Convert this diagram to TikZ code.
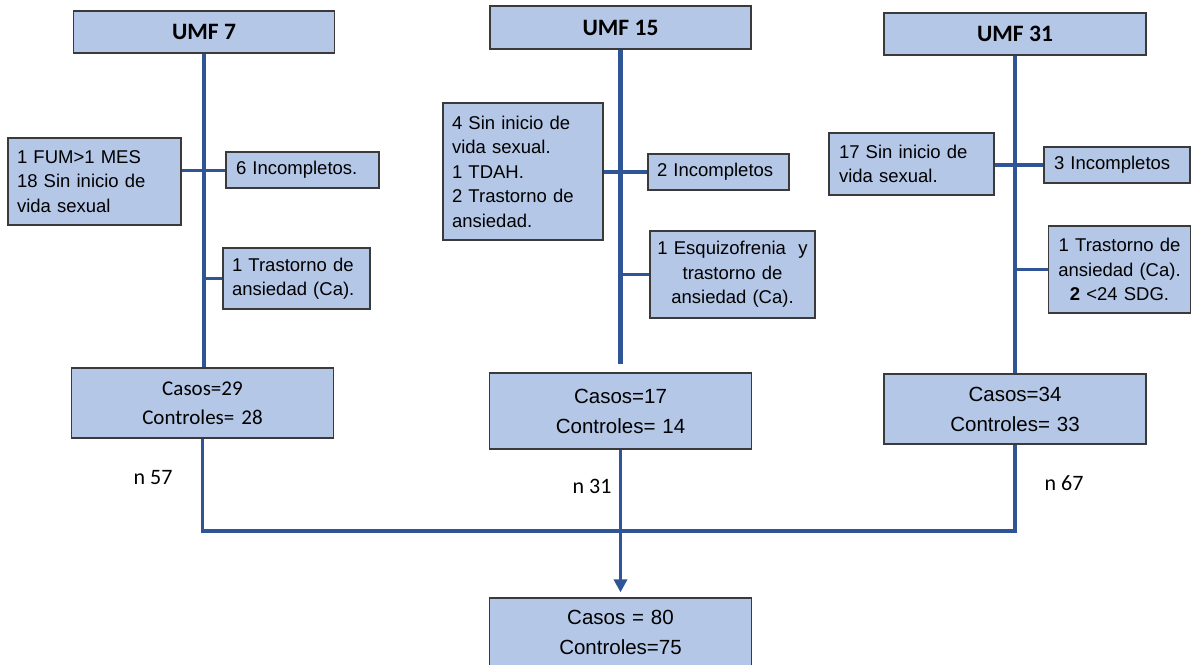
\documentclass[tikz,border=0pt]{standalone}
\usepackage{fontspec}
\setmainfont{Liberation Sans}
\newfontfamily\calib{Carlito}
\usetikzlibrary{arrows.meta}
\definecolor{boxfill}{HTML}{B4C7E7}
\definecolor{boxline}{HTML}{3A3A3A}
\definecolor{conncol}{HTML}{2F5597}
\hyphenpenalty=10000
\exhyphenpenalty=10000
\tikzset{
  box/.style={draw=boxline, line width=1.2pt, fill=boxfill, inner ysep=0pt, inner xsep=9pt},
  lbox/.style={box, align=left, font=\fontsize{18.5}{24.5}\selectfont},
  cbox/.style={box, align=center, font=\fontsize{18.5}{24.5}\selectfont},
  titlebox/.style={box, font=\calib\bfseries\fontsize{23.5}{27}\selectfont},
  casosA/.style={box, align=center, font=\calib\fontsize{21}{29}\selectfont},
  casosB/.style={box, align=center, font=\fontsize{20.5}{30}\selectfont},
  nlabel/.style={font=\calib\fontsize{22}{26}\selectfont, inner sep=0pt},
  conn/.style={draw=conncol, line width=3.5pt},
  thickconn/.style={draw=conncol, line width=4.5pt}
}
\begin{document}
\begin{tikzpicture}[x=1pt,y=-1pt]
\useasboundingbox (0,0) rectangle (1191,664);
\clip (0,0) rectangle (1191,664);
% titles
\node[titlebox, minimum width=261pt, minimum height=42pt] (u7) at (204,32) {UMF 7};
\node[titlebox, minimum width=261pt, minimum height=43pt] (u15) at (620.5,27.5) {UMF 15};
\node[titlebox, minimum width=262pt, minimum height=42pt] (u31) at (1015,34) {UMF 31};
% UMF 7 side boxes
\node[lbox, text width=155pt, minimum height=87pt] (l7) at (94.5,181.5) {1 FUM>1 MES\\18 Sin inicio de\\vida sexual};
\node[lbox, minimum height=36pt, inner xsep=10pt, text width=133pt] (r7) at (302.5,170) {6 Incompletos.};
\node[lbox, text width=129pt, minimum height=61pt] (t7) at (296.5,278.5) {1 Trastorno de\\ansiedad (Ca).};
% UMF 15 side boxes
\node[lbox, text width=142pt, minimum height=137pt] (l15) at (523,171.5) {4 Sin inicio de\\vida sexual.\\1 TDAH.\\2 Trastorno de\\ansiedad.};
\node[lbox, text width=123pt, minimum height=36pt] (r15) at (718.5,172) {2 Incompletos};
\node[cbox, inner xsep=3pt, text width=159pt, minimum height=87pt] (t15) at (732.5,274.5) {1 Esquizofrenia\ \ y\\trastorno de\\ansiedad (Ca).};
% UMF 31 side boxes
\node[lbox, text width=145pt, minimum height=62pt, inner xsep=10pt] (l31) at (911.5,164) {17 Sin inicio de\\vida sexual.};
\node[lbox, text width=126pt, minimum height=36pt, inner xsep=10pt] (r31) at (1117,165) {3 Incompletos};
\node[cbox, text width=124pt, minimum height=87pt] (t31) at (1119.5,269.5) {1 Trastorno de\\ansiedad (Ca).\\\textbf{2} <24 SDG.};
% casos boxes
\node[casosA, text width=244pt, minimum height=70pt] (c7) at (202.5,403) {Casos=29\\Controles= 28};
\node[casosB, text width=244pt, minimum height=76pt] (c15) at (620.5,411) {Casos=17\\Controles= 14};
\node[casosB, text width=244pt, minimum height=70pt] (c31) at (1015,409) {Casos=34\\Controles= 33};
\node[casosB, text width=244pt, minimum height=69pt] (tot) at (620.5,632.5) {Casos = 80\\Controles=75};
% n labels
\node[nlabel] (n7) at (153,478) {n 57};
\node[nlabel] (n15) at (592,486) {n 31};
\node[nlabel] (n31) at (1064,483) {n 67};
% vertical trunks
\draw[conn] (u7.south) -- (u7.south |- c7.north);
\draw[thickconn] (u15.south) -- ([yshift=8pt]u15.south |- c15.north);
\draw[conn] (u31.south) -- (u31.south |- c31.north);
% side connectors
\draw[conn, line width=3pt] (r7.west) -- (r7.west -| l7.east);
\draw[conn, line width=3pt] (t7.west) -- (t7.west -| u7.south);
\draw[thickconn] (r15.west) -- (r15.west -| l15.east);
\draw[conn] (t15.west) -- (t15.west -| u15.south);
\draw[thickconn] (r31.west) -- (r31.west -| l31.east);
\draw[conn] (t31.west) -- (t31.west -| u31.south);
% merge
\coordinate (bus) at (620.5,531);
\draw[conn] (c7.south) |- (bus) -| (c31.south);
\draw[conn, -{Triangle[length=13pt,width=13pt]}, shorten >=5pt] (c15.south) -- (tot.north);
\end{tikzpicture}
\end{document}
